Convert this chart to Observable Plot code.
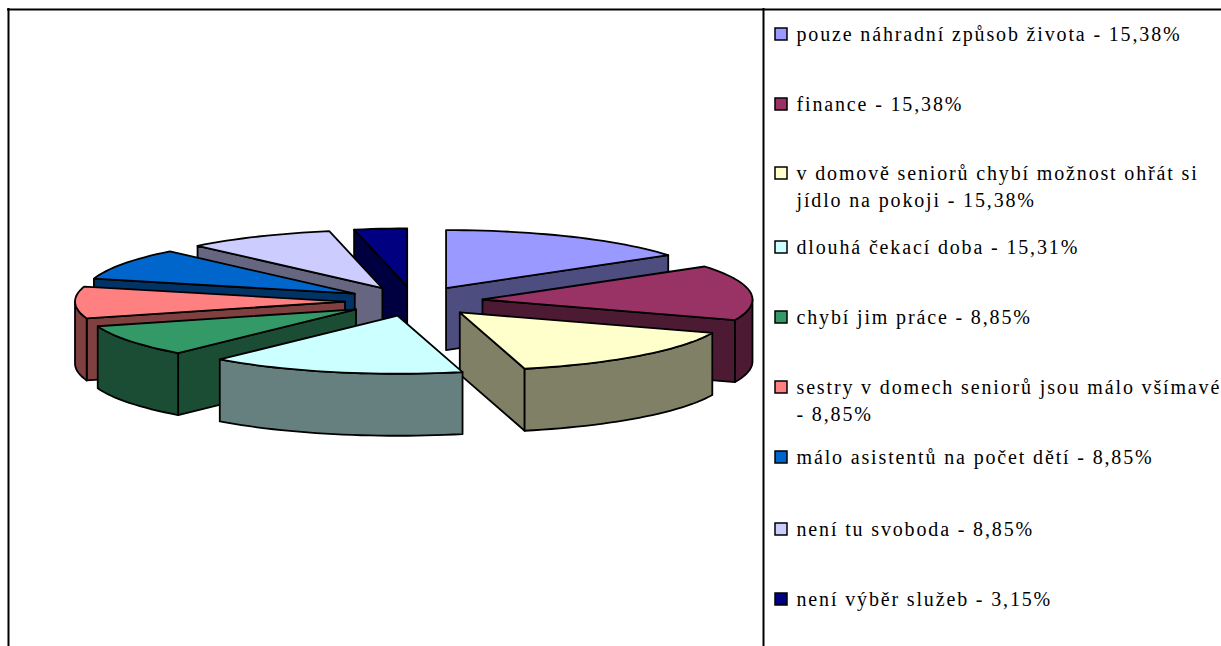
<!DOCTYPE html>
<html><head><meta charset="utf-8">
<style>html,body{margin:0;padding:0;background:#fff;overflow:hidden}svg{display:block}</style>
<script src="https://cdn.jsdelivr.net/npm/d3@7"></script>
<script src="https://cdn.jsdelivr.net/npm/@observablehq/plot@0.6"></script>
</head><body><script>
const labels = [
  "pouze náhradní způsob života - 15,38%",
  "finance - 15,38%",
  "v domově seniorů chybí možnost ohřát si\njídlo na pokoji - 15,38%",
  "dlouhá čekací doba - 15,31%",
  "chybí jim práce - 8,85%",
  "sestry v domech seniorů jsou málo všímavé\n- 8,85%",
  "málo asistentů na počet dětí - 8,85%",
  "není tu svoboda - 8,85%",
  "není výběr služeb - 3,15%"
];
const values = [15.38, 15.38, 15.38, 15.31, 8.85, 8.85, 8.85, 8.85, 3.15];
const colors = ["#9999FF", "#993366", "#FFFFCC", "#CCFFFF", "#339966", "#FF8080", "#0066CC", "#CCCCFF", "#000080"];
const legendRows = [34, 104, 173, 247, 317, 387, 457, 529, 599];

// Pie model
const W = 1221, H = 646;
const cx = 413.5, cy = 300.8, rx = 270, tilt = 0.215, depth = 62, explode = 69;
const total = d3.sum(values);
const rad = d => d * Math.PI / 180;
const half = c => { const r = d3.rgb(c); return d3.rgb(r.r / 2, r.g / 2, r.b / 2).formatHex(); };

let acc = 0;
const slices = values.map((v, i) => {
  const a0 = acc / total * 360; acc += v;
  const a1 = acc / total * 360, mid = (a0 + a1) / 2;
  const apex = [cx + explode * Math.sin(rad(mid)), cy - explode * tilt * Math.cos(rad(mid))];
  const rim = a => [apex[0] + rx * Math.sin(rad(a)), apex[1] - rx * tilt * Math.cos(rad(a))];
  return {i, a0, a1, mid, apex, rim};
});
const order = slices.slice().sort((a, b) => Math.cos(rad(b.mid)) - Math.cos(rad(a.mid)));

const arc = (s, a, b) => {
  const n = Math.max(1, Math.ceil((b - a) / 2));
  return d3.range(n + 1).map(k => s.rim(a + (b - a) * k / n));
};
const verts = [];
const add = (id, fill, pts) => pts.forEach(([x, y]) => verts.push({id, fill, x, y}));
const drop = p => [p[0], p[1] + depth];

for (const s of order) {
  const q = s.rim(s.mid), dark = half(colors[s.i]);
  for (const a of [s.a0, s.a1]) {
    const p = s.rim(a), dx = p[0] - s.apex[0];
    if (Math.abs(dx) < 1) continue;
    const lineY = s.apex[1] + (p[1] - s.apex[1]) * (q[0] - s.apex[0]) / dx;
    if (q[1] < lineY) add(`${s.i}-r${a}`, dark, [s.apex, p, drop(p), drop(s.apex)]);
  }
  const f0 = Math.max(s.a0, 90), f1 = Math.min(s.a1, 270);
  if (f1 > f0) {
    const e = arc(s, f0, f1);
    add(`${s.i}-o`, dark, [...e, ...e.slice().reverse().map(drop)]);
  }
  add(`${s.i}-t`, colors[s.i], [s.apex, ...arc(s, s.a0, s.a1)]);
}

const fontSize = 20, lineH = 27 / fontSize, textShift = -2;
const legend = labels.map((label, i) => {
  const n = label.split("\n").length;
  return {label, color: colors[i], row: legendRows[i], textY: legendRows[i] + textShift + (n - 1) * lineH * fontSize / 2};
});

document.body.append(Plot.plot({
  width: W, height: H, margin: 0,
  x: {domain: [0, W], range: [0, W], axis: null},
  y: {domain: [0, H], range: [0, H], axis: null},
  color: {type: "identity"},
  style: {background: "#fff", fontFamily: "Liberation Serif", letterSpacing: "1.85px"},
  marks: [
    Plot.ruleY([9], {x1: 7, x2: W, stroke: "#000", strokeWidth: 2}),
    Plot.ruleX([8], {y1: 8, y2: H, stroke: "#000", strokeWidth: 2}),
    Plot.ruleX([763], {y1: 8, y2: H, stroke: "#000", strokeWidth: 2}),
    Plot.line(verts, {x: "x", y: "y", z: "id", fill: "fill", stroke: "#000", strokeWidth: 1.8,
      curve: "linear-closed", strokeLinejoin: "round"}),
    Plot.rect(legend, {x1: () => 775, x2: () => 787, y1: d => d.row - 6, y2: d => d.row + 6,
      fill: "color", stroke: "#000", strokeWidth: 1.5}),
    Plot.text(legend, {x: () => 796, y: "textY", text: "label", textAnchor: "start", lineAnchor: "middle",
      fontSize, lineHeight: lineH, fill: "#000", fontFamily: "Liberation Serif"})
  ]
}));
</script></body></html>
